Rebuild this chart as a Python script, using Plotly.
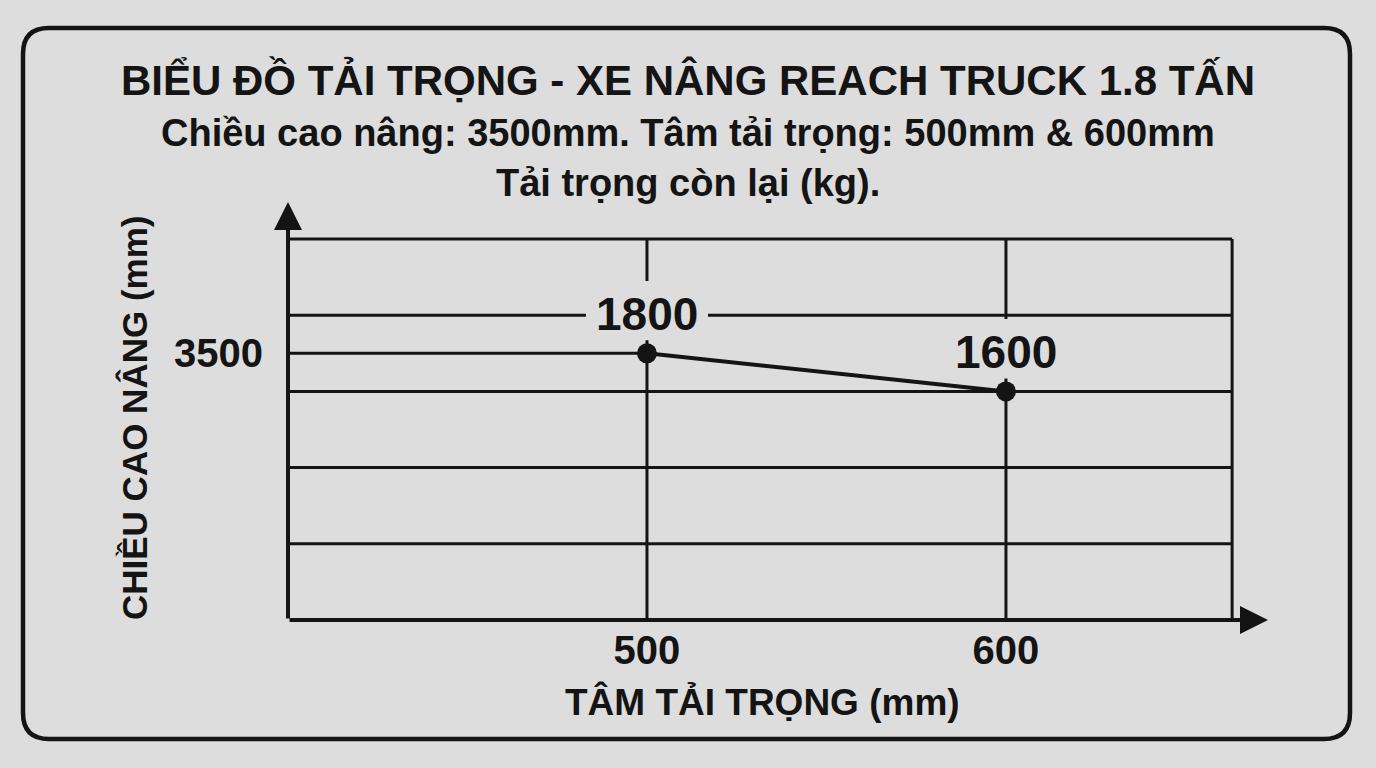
import plotly.graph_objects as go

# values
load_centre = [500, 600]        # mm
lift_height = [3500, 3000]      # mm, where each point sits on the plate
capacity = [1800, 1600]         # kg
grid_heights = [1000, 2000, 3000, 4000, 5000]
x_ticks = [500, 600]
y_ticks = [3500]

title_text = "BIỂU ĐỒ TẢI TRỌNG - XE NÂNG REACH TRUCK 1.8 TẤN"
subtitle_text = "Chiều cao nâng: 3500mm. Tâm tải trọng: 500mm & 600mm"
note_text = "Tải trọng còn lại (kg)."
x_title = "TÂM TẢI TRỌNG (mm)"
y_title = "CHIỀU CAO NÂNG (mm)"

W, H = 1376, 768
BG = '#dddddd'
INK = '#141414'
FONT = 'Liberation Sans, Arial, sans-serif'

# axis extents (arrow tips) and end of the grid box
X0, X_END, X_GRID = 400, 673, 663
Y0, Y_END, Y_GRID = 0, 5486, 5000


def px(x, y):
    # pixel -> paper coords
    return f"{x / W:.5f},{1 - y / H:.5f}"


shapes = []
for h in grid_heights:
    shapes.append(dict(type='line', xref='x', yref='y', x0=X0, x1=X_GRID, y0=h, y1=h,
                       line=dict(color=INK, width=3), layer='below'))
for xv in x_ticks + [X_GRID]:
    shapes.append(dict(type='line', xref='x', yref='y', x0=xv, x1=xv, y0=Y0, y1=Y_GRID,
                       line=dict(color=INK, width=3), layer='below'))
# guide line from the 3500 tick to the first point
shapes.append(dict(type='line', xref='x', yref='y', x0=X0, x1=load_centre[0],
                   y0=y_ticks[0], y1=y_ticks[0], line=dict(color=INK, width=3), layer='below'))
# plain patches behind the capacity labels (they break the grid lines)
for xv, yv in zip(load_centre, lift_height):
    shapes.append(dict(type='rect', xref='x', yref='y', x0=xv - 17, x1=xv + 17,
                       y0=yv + 170, y1=yv + 950, fillcolor=BG, line=dict(width=0),
                       layer='below'))

# rounded frame of the plate
L, T, R, B, r = 23, 28, 1350, 739, 26
frame = (f"M{px(L + r, T)} L{px(R - r, T)} Q{px(R, T)} {px(R, T + r)} "
         f"L{px(R, B - r)} Q{px(R, B)} {px(R - r, B)} "
         f"L{px(L + r, B)} Q{px(L, B)} {px(L, B - r)} "
         f"L{px(L, T + r)} Q{px(L, T)} {px(L + r, T)} Z")
shapes.append(dict(type='path', xref='paper', yref='paper', path=frame,
                   line=dict(color=INK, width=4.5)))

annotations = []
# axes drawn as arrows
for tip, tail in [((X_END, Y0), (X0, Y0)), ((X0, Y_END), (X0, Y0))]:
    annotations.append(dict(x=tip[0], y=tip[1], ax=tail[0], ay=tail[1], xref='x', yref='y',
                            axref='x', ayref='y', text='', showarrow=True, arrowhead=2,
                            arrowsize=1.4, arrowwidth=4, arrowcolor=INK, standoff=0))
# capacity labels above the points
for xv, yv, c in zip(load_centre, lift_height, capacity):
    annotations.append(dict(x=xv, y=yv, text=str(c), showarrow=False, yshift=39,
                            yanchor='middle',
                            font=dict(family=FONT, size=46, color=INK, weight='bold')))
annotations.append(dict(x=0.5, y=1 - 133 / H, xref='paper', yref='paper', text=subtitle_text,
                        showarrow=False, yanchor='middle',
                        font=dict(family=FONT, size=38, color=INK, weight='bold')))
annotations.append(dict(x=0.5, y=1 - 183 / H, xref='paper', yref='paper', text=note_text,
                        showarrow=False, yanchor='middle',
                        font=dict(family=FONT, size=38, color=INK, weight='bold')))
# axis titles
annotations.append(dict(x=762 / W, y=1 - 702 / H, xref='paper', yref='paper', text=x_title,
                        showarrow=False, xanchor='center', yanchor='middle',
                        font=dict(family=FONT, size=37, color=INK, weight='bold')))
annotations.append(dict(x=134 / W, y=1 - 418 / H, xref='paper', yref='paper', text=y_title,
                        showarrow=False, textangle=-90, xanchor='center', yanchor='middle',
                        font=dict(family=FONT, size=35, color=INK, weight='bold')))

fig = go.Figure(go.Scatter(
    x=load_centre, y=lift_height, mode='lines+markers',
    line=dict(color=INK, width=4), marker=dict(color=INK, size=20),
    customdata=capacity,
    hovertemplate='Tâm tải %{x} mm<br>Chiều cao %{y} mm<br>Tải trọng %{customdata} kg<extra></extra>',
))

fig.update_layout(
    width=W, height=H, margin=dict(l=0, r=0, t=0, b=0),
    paper_bgcolor=BG, plot_bgcolor=BG, showlegend=False,
    title=dict(text=title_text, x=0.5, xanchor='center', y=1 - 80 / H, yanchor='middle',
               font=dict(family=FONT, size=42, color=INK, weight='bold')),
    xaxis=dict(range=[X0, X_END], domain=[288 / W, 1268 / W], showgrid=False, zeroline=False,
               showline=False, tickvals=x_ticks, ticks='', ticklabelstandoff=3,
               tickfont=dict(family=FONT, size=40, color=INK, weight='bold')),
    yaxis=dict(range=[Y0, Y_END], domain=[1 - 620 / H, 1 - 202 / H], showgrid=False,
               zeroline=False, showline=False, tickvals=y_ticks, ticks='', ticklabelstandoff=24,
               tickfont=dict(family=FONT, size=40, color=INK, weight='bold')),
    shapes=shapes, annotations=annotations,
)

fig.write_html("out.html", config={'displayModeBar': False},
               post_script="document.body.style.margin = '0';")
